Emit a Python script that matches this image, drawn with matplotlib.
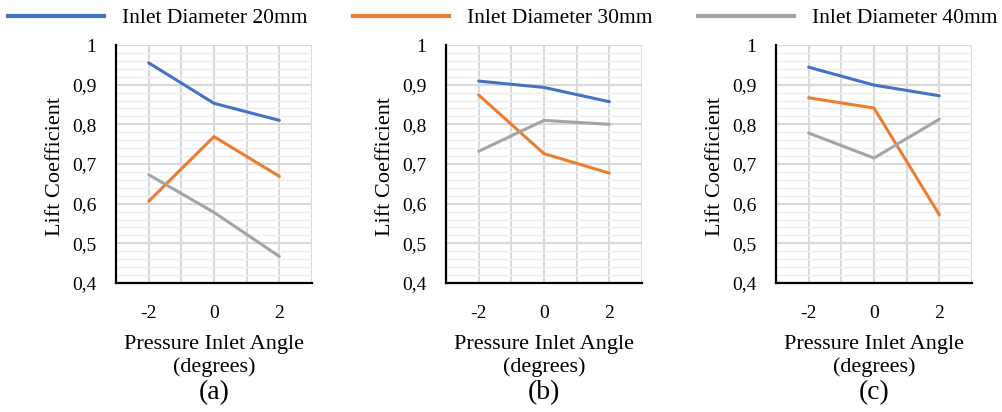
import matplotlib
matplotlib.use("Agg")
import matplotlib.pyplot as plt
from matplotlib.ticker import FixedLocator, FuncFormatter, MultipleLocator
from matplotlib.lines import Line2D

plt.rcParams['font.family'] = ['Liberation Serif', 'DejaVu Serif']

angles = [-2, 0, 2]
angle_labels = ["-2", "0", "2"]
series_names = ["Inlet Diameter 20mm", "Inlet Diameter 30mm", "Inlet Diameter 40mm"]
colors = ["#4472C4", "#ED7D31", "#A5A5A5"]
panel_labels = ["(a)", "(b)", "(c)"]

# panel (a)
a_20 = [0.955, 0.853, 0.810]
a_30 = [0.606, 0.769, 0.669]
a_40 = [0.673, 0.578, 0.467]
# panel (b)
b_20 = [0.909, 0.893, 0.857]
b_30 = [0.874, 0.726, 0.677]
b_40 = [0.732, 0.810, 0.800]
# panel (c)
c_20 = [0.944, 0.899, 0.872]
c_30 = [0.867, 0.841, 0.572]
c_40 = [0.778, 0.715, 0.813]

panels = [[a_20, a_30, a_40], [b_20, b_30, b_40], [c_20, c_30, c_40]]

fig = plt.figure(figsize=(10.02, 4.12), dpi=100)
lefts = [116, 446, 776]
W, H = 1002, 412
for i, (lx, data) in enumerate(zip(lefts, panels)):
    ax = fig.add_axes([lx / W, 1 - 283 / H, 196 / W, (283 - 45) / H])
    for vals, c in zip(data, colors):
        ax.plot(angles, vals, color=c, lw=2.2, solid_capstyle='round')
    ax.set_xlim(-3, 3)
    ax.set_ylim(0.4, 1.0)
    ax.set_xticks(angles)
    ax.set_xticklabels(angle_labels)
    ax.xaxis.set_minor_locator(MultipleLocator(1))
    ax.yaxis.set_major_locator(MultipleLocator(0.1))
    ax.yaxis.set_minor_locator(MultipleLocator(0.02))
    ax.yaxis.set_major_formatter(FuncFormatter(
        lambda v, p: ("%g" % round(v, 2)).replace('.', ',')))
    ax.grid(which='major', color='#d9d9d9', lw=1.5)
    ax.grid(which='minor', axis='y', color='#eeeeee', lw=1.0)
    ax.grid(which='minor', axis='x', color='#d9d9d9', lw=1.5)
    ax.set_axisbelow(True)
    for s in ['top', 'right']:
        ax.spines[s].set_visible(False)
    for s in ['left', 'bottom']:
        ax.spines[s].set_linewidth(1.6)
        ax.spines[s].set_color('black')
    ax.tick_params(which='both', length=0, labelsize=14)
    ax.tick_params(axis='y', pad=14)
    ax.tick_params(axis='x', pad=16)
    ax.set_ylabel("Lift Coefficient", fontsize=16)
    ax.yaxis.set_label_coords(-0.26, 0.49)
    ax.set_xlabel("Pressure Inlet Angle\n(degrees)", fontsize=16, linespacing=1.25)
    ax.xaxis.set_label_coords(0.5, -0.217)
    fig.text((lx + 98) / W, 1 - 393 / H, panel_labels[i], fontsize=20,
             ha='center', va='center')

handles = [Line2D([0], [0], color=c, lw=3) for c in colors]
leg = fig.legend(handles, series_names, loc='center left',
                 bbox_to_anchor=(8 / W, 1 - 18 / H),
                 ncol=3, frameon=False, fontsize=15.5, handlelength=4.46,
                 columnspacing=2.1, handletextpad=0.84, borderpad=0,
                 borderaxespad=0)

fig.savefig("out.png", dpi=100)
